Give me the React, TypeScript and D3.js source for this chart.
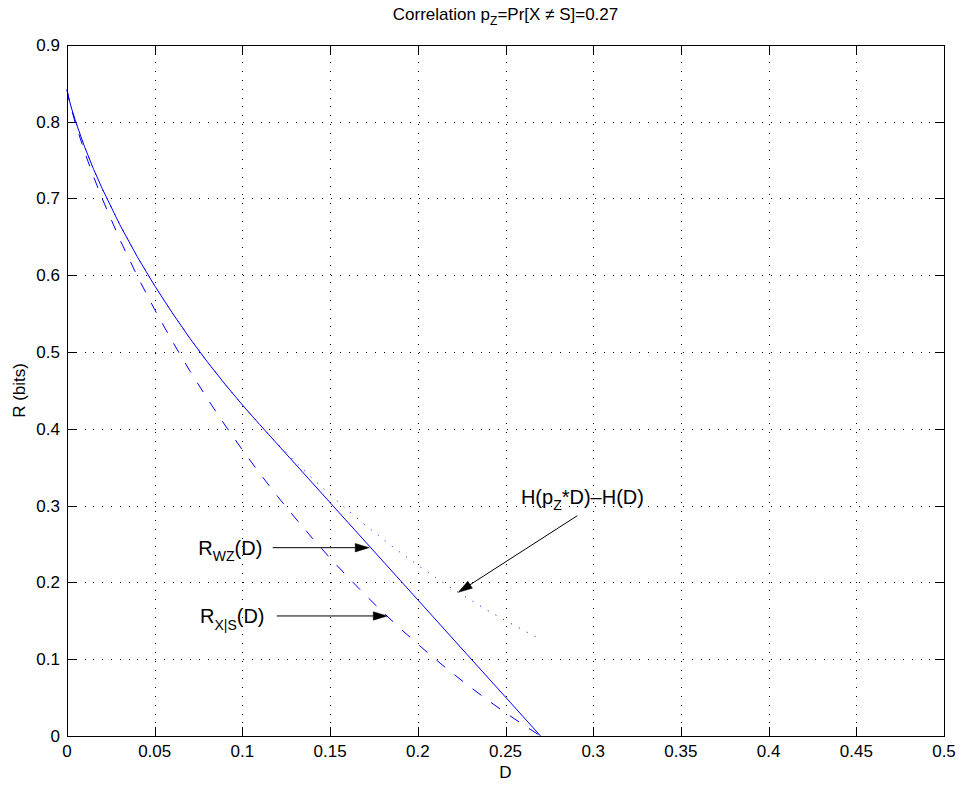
import React from 'react';
import * as d3 from 'd3';

// distortion grid (D) shared by the dashed and dotted curves
const dGrid = [0, 0.001, 0.0025, 0.005, 0.01, 0.015, 0.02, 0.03, 0.04, 0.05, 0.06, 0.07, 0.08, 0.09, 0.10,
  0.11, 0.12, 0.13, 0.14, 0.15, 0.16, 0.17, 0.18, 0.19, 0.20, 0.21, 0.22, 0.23, 0.24, 0.25, 0.26, 0.27];
// R_{X|S}(D) (dashed)
const rConditional = [0.8415, 0.8301, 0.8163, 0.7961, 0.7607, 0.7291, 0.7001, 0.6471, 0.5992, 0.5551, 0.5141,
  0.4756, 0.4393, 0.4050, 0.3725, 0.3416, 0.3121, 0.2841, 0.2573, 0.2317, 0.2072, 0.1838, 0.1614, 0.1400,
  0.1196, 0.1000, 0.0813, 0.0635, 0.0465, 0.0302, 0.0148, 0];
// H(pZ*D) - H(D) (dotted)
const hDifference = [0.8415, 0.8308, 0.8180, 0.7994, 0.7673, 0.7389, 0.7131, 0.6662, 0.6243, 0.5862, 0.5510,
  0.5180, 0.4872, 0.4583, 0.4310, 0.4052, 0.3805, 0.3573, 0.3352, 0.3141, 0.2940, 0.2748, 0.2565, 0.2390,
  0.2225, 0.2066, 0.1914, 0.1771, 0.1633, 0.1502, 0.1379, 0.1260];
// R_WZ(D) (solid)
const wzD = [0, 0.001, 0.0025, 0.005, 0.01, 0.015, 0.02, 0.03, 0.04, 0.05, 0.06, 0.07, 0.08, 0.09, 0.10, 0.11, 0.27];
const wzR = [0.8415, 0.8308, 0.8180, 0.7994, 0.7673, 0.7389, 0.7131, 0.6662, 0.6243, 0.5862, 0.5510,
  0.5180, 0.4872, 0.4583, 0.4310, 0.4052, 0];

const xTicks = [0, 0.05, 0.1, 0.15, 0.2, 0.25, 0.3, 0.35, 0.4, 0.45, 0.5];
const yTicks = [0, 0.1, 0.2, 0.3, 0.4, 0.5, 0.6, 0.7, 0.8, 0.9];

// annotations (data coordinates)
const labelMain = ['R', 'R', 'H(p'];
const labelSub = ['WZ', 'X|S', 'Z'];
const labelTail = ['(D)', '(D)', '*D)\u2013H(D)'];
const labelX = [0.0749, 0.0758, 0.2588];
const labelY = [0.2357, 0.1471, 0.3021];
const arrowFromX = [0.1173, 0.1196, 0.2909];
const arrowFromY = [0.2452, 0.1563, 0.2868];
const arrowToX = [0.1723, 0.1826, 0.2231];
const arrowToY = [0.2452, 0.1563, 0.1871];

const W = 962;
const H = 789;
const FONT = "'Liberation Sans', Arial, Helvetica, sans-serif";

export default function App() {
  const x = d3.scaleLinear().domain([0, 0.5]).range([67, 944]);
  const y = d3.scaleLinear().domain([0, 0.9]).range([736, 44.8]);
  const [x0, x1] = x.range();
  const [y0, y1] = y.range();

  const line = d3.line<[number, number]>().x(d => x(d[0])).y(d => y(d[1]));
  const solidPath = line(wzD.map((d, i) => [d, wzR[i]]));
  const dashedPath = line(dGrid.map((d, i) => [d, rConditional[i]]));
  const dottedPath = line(dGrid.map((d, i) => [d, hDifference[i]]));

  const tickLen = 9;

  const arrows = arrowFromX.map((fx, i) => {
    const sx = x(fx), sy = y(arrowFromY[i]);
    const ex = x(arrowToX[i]), ey = y(arrowToY[i]);
    const len = Math.hypot(ex - sx, ey - sy);
    const ux = (ex - sx) / len, uy = (ey - sy) / len;
    const hl = 14, hw = 4.2;
    const bx = ex - ux * hl, by = ey - uy * hl;
    const pts = [
      [ex, ey],
      [bx - uy * hw, by + ux * hw],
      [bx + uy * hw, by - ux * hw],
    ].map(p => p.join(',')).join(' ');
    return { sx, sy, bx, by, pts };
  });

  return (
    <svg width={W} height={H} style={{ position: 'absolute', left: 0, top: 0, background: '#fff' }}
      fontFamily={FONT}>
      <rect x={0} y={0} width={W} height={H} fill="#fff" />
      {/* grid */}
      <g stroke="#000" strokeWidth={1} strokeDasharray="1 7.8" shapeRendering="crispEdges">
        {xTicks.filter(t => t > 0 && t < 0.5).map(t => (
          <line key={'gx' + t} x1={Math.round(x(t)) + 0.5} x2={Math.round(x(t)) + 0.5} y1={y1} y2={y0} />
        ))}
        {yTicks.filter(t => t > 0 && t < 0.9).map(t => (
          <line key={'gy' + t} y1={Math.round(y(t)) + 0.5} y2={Math.round(y(t)) + 0.5} x1={x0} x2={x1} />
        ))}
      </g>
      {/* ticks */}
      <g stroke="#000" strokeWidth={1} shapeRendering="crispEdges">
        {xTicks.map(t => {
          const px = Math.round(x(t)) + 0.5;
          return (
            <g key={'tx' + t}>
              <line x1={px} x2={px} y1={y0} y2={y0 - tickLen} />
              <line x1={px} x2={px} y1={y1} y2={y1 + tickLen} />
            </g>
          );
        })}
        {yTicks.map(t => {
          const py = Math.round(y(t)) + 0.5;
          return (
            <g key={'ty' + t}>
              <line y1={py} y2={py} x1={x0} x2={x0 + tickLen} />
              <line y1={py} y2={py} x1={x1} x2={x1 - tickLen} />
            </g>
          );
        })}
      </g>
      {/* curves */}
      <path d={solidPath || ''} fill="none" stroke="#0000ff" strokeWidth={1} />
      <path d={dashedPath || ''} fill="none" stroke="#0000ff" strokeWidth={1} strokeDasharray="11 12" />
      <path d={dottedPath || ''} fill="none" stroke="#0000ff" strokeWidth={1} strokeDasharray="1 7.9" />
      {/* axes box */}
      <rect x={Math.round(x0) + 0.5} y={Math.round(y1) + 0.5} width={Math.round(x1) - Math.round(x0)}
        height={Math.round(y0) - Math.round(y1)} fill="none" stroke="#000" strokeWidth={1} shapeRendering="crispEdges" />
      {/* tick labels */}
      <g fontSize={17} fill="#000">
        {xTicks.map(t => (
          <text key={'lx' + t} x={x(t)} y={757} textAnchor="middle">{String(+t.toFixed(2))}</text>
        ))}
        {yTicks.map(t => (
          <text key={'ly' + t} x={60} y={y(t) + 6} textAnchor="end">{String(+t.toFixed(1))}</text>
        ))}
      </g>
      {/* axis labels */}
      <text x={(x0 + x1) / 2} y={778} fontSize={17} textAnchor="middle">D</text>
      <text transform={`translate(25,${(y0 + y1) / 2}) rotate(-90)`} fontSize={17} textAnchor="middle">R (bits)</text>
      {/* title */}
      <text x={(x0 + x1) / 2} y={19.5} fontSize={17} textAnchor="middle">
        Correlation p<tspan fontSize={12} dy={5}>Z</tspan><tspan dy={-5}>=Pr[X ≠ S]=0.27</tspan>
      </text>
      {/* annotations */}
      {labelMain.map((m, i) => (
        <text key={'an' + i} x={x(labelX[i])} y={y(labelY[i])} fontSize={20} fill="#000">
          {m}<tspan fontSize={14} dy={6.5}>{labelSub[i]}</tspan><tspan dy={-6.5}>{labelTail[i]}</tspan>
        </text>
      ))}
      {arrows.map((a, i) => (
        <g key={'ar' + i}>
          <line x1={a.sx} y1={a.sy} x2={a.bx} y2={a.by} stroke="#000" strokeWidth={1} />
          <polygon points={a.pts} fill="#000" stroke="#000" strokeWidth={0.5} />
        </g>
      ))}
    </svg>
  );
}
